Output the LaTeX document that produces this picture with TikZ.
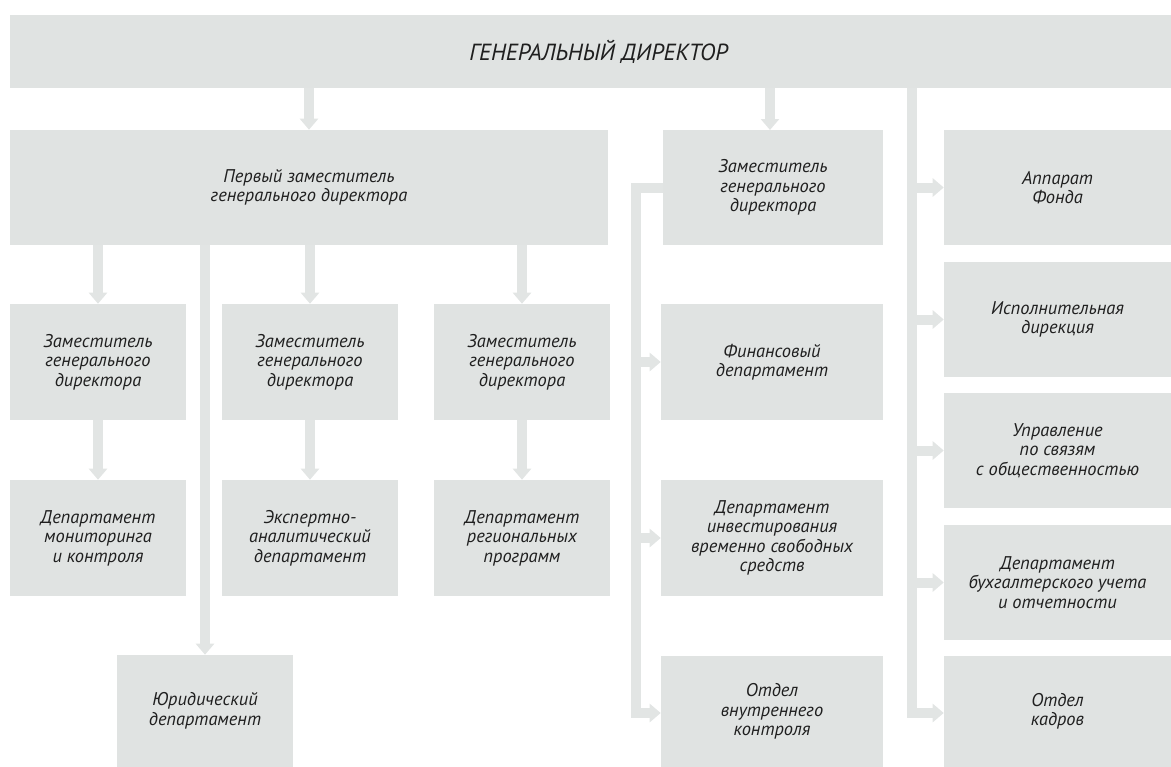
\documentclass[tikz,border=0pt]{standalone}
\usepackage{fontspec}
\setmainfont{PT Sans}
\usetikzlibrary{arrows.meta}
\definecolor{boxgray}{HTML}{E0E3E2}
\definecolor{arrgray}{HTML}{E2E5E4}
\tikzset{
  box/.style={fill=boxgray, draw=none, inner sep=0pt, align=center,
    font=\itshape\fontsize{13.8}{14.6}\selectfont, text=black!88},
  conn/.style={draw=arrgray, line width=7.5pt, line join=miter,
    -{Triangle[width=13.5pt,length=8.25pt]}},
  bus/.style={draw=arrgray, line width=7.5pt, line join=miter}
}
\newcommand{\bx}[7]{% name, cx, cy, w, h, text
  \node[box, minimum width=#4*0.75pt, minimum height=#5*0.75pt] (#1) at (#2,#3) {#6};}
\begin{document}
\begin{tikzpicture}[x=0.75pt,y=-0.75pt]
\useasboundingbox (0,0) rectangle (1171,767);
% top
\node[box, minimum width=1161*0.75pt, minimum height=73*0.75pt, font=\itshape\fontsize{17.5}{20}\selectfont] (gd) at (590.5,51.5) {\hspace*{12pt}ГЕНЕРАЛЬНЫЙ ДИРЕКТОР};
% first deputy
\bx{fd}{309}{187.5}{598}{115}{Первый заместитель\\генерального директора}{}
\bx{zr}{773}{187.5}{220}{115}{Заместитель\\генерального\\директора}{}
% right column
\bx{r1}{1057.5}{187.5}{227}{115}{Аппарат\\Фонда}{}
\bx{r2}{1057.5}{319.5}{227}{115}{Исполнительная\\дирекция}{}
\bx{r3}{1057.5}{450.5}{227}{115}{Управление\\по связям\\с общественностью}{}
\bx{r4}{1057.5}{582.5}{227}{115}{Департамент\\бухгалтерского учета\\и отчетности}{}
\bx{r5}{1057.5}{711.5}{227}{111}{Отдел\\кадров}{}
% middle column
\bx{m1}{772}{362}{222}{116}{Финансовый\\департамент}{}
\bx{m2}{772}{538}{222}{116}{Департамент\\инвестирования\\временно свободных\\средств}{}
\bx{m3}{772}{711.5}{222}{111}{Отдел\\внутреннего\\контроля}{}
% left rows
\bx{a1}{98}{362}{176}{116}{Заместитель\\генерального\\директора}{}
\bx{b1}{310}{362}{176}{116}{Заместитель\\генерального\\директора}{}
\bx{c1}{522}{362}{176}{116}{Заместитель\\генерального\\директора}{}
\bx{a2}{98}{538}{176}{116}{Департамент\\мониторинга\\и контроля}{}
\bx{b2}{310}{538}{176}{116}{Экспертно-\\аналитический\\департамент}{}
\bx{c2}{522}{538}{176}{116}{Департамент\\региональных\\программ}{}
\bx{ju}{205}{711}{176}{112}{Юридический\\департамент}{}
% connectors
\draw[conn] (gd.south -| fd) -- (fd.north);
\draw[conn] (gd.south -| 770,0) -- (770,130);
\coordinate (rb) at (912,713);
\draw[conn] (gd.south -| rb) -- (rb) -- (r5.west |- rb);
\foreach \n in {r1,r2,r3,r4}{\draw[conn] (\n.west -| rb) -- (\n.west);}
\coordinate (mb) at (636,713);
\draw[conn] (zr.west) -- (zr.west -| mb) -- (mb) -- (m3.west |- mb);
\foreach \n in {m1,m2}{\draw[conn] (\n.west -| mb) -- (\n.west);}
\foreach \n in {a1,b1,c1}{\draw[conn] (fd.south -| \n) -- (\n.north);}
\draw[conn] (a1.south) -- (a2.north);
\draw[conn] (b1.south) -- (b2.north);
\draw[conn] (c1.south) -- (c2.north);
\draw[conn] (fd.south -| ju) -- (ju.north);
\end{tikzpicture}
\end{document}
